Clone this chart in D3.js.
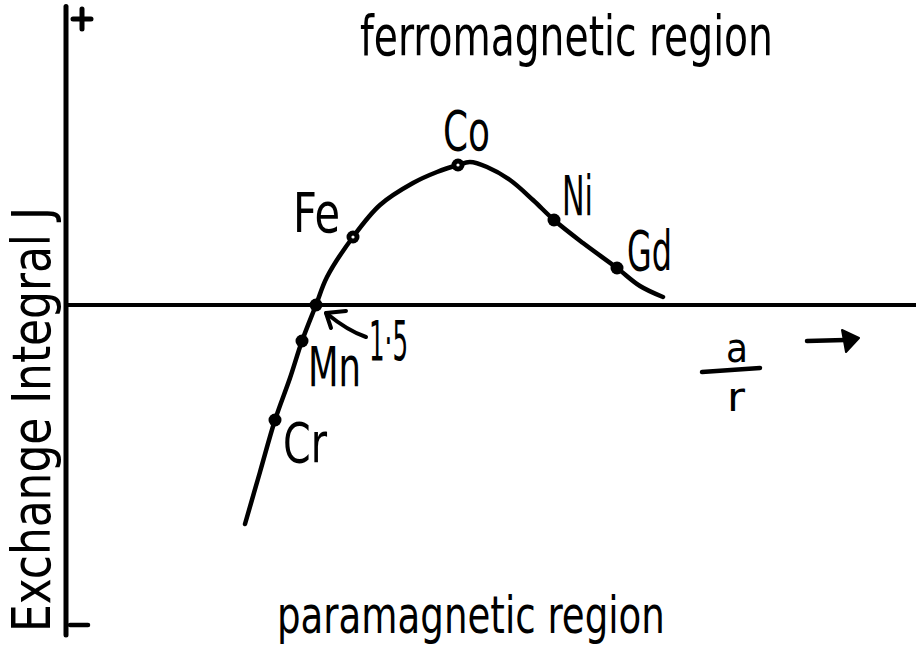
<!DOCTYPE html>
<html>
<head>
<meta charset="utf-8">
<script src="https://cdn.jsdelivr.net/npm/d3@7"></script>
<style>
  html, body { margin: 0; padding: 0; background: #fff; }
  svg { display: block; }
  text { font-family: "Liberation Sans Narrow", "DejaVu Sans Condensed", "Roboto Condensed", "Liberation Sans", sans-serif; font-stretch: condensed; fill: #000; }
</style>
</head>
<body>
<svg id="chart" width="916" height="656"></svg>
<script>
// ---- data (a/r ratio vs exchange integral J) ----
const curveAR = [1.145, 1.22, 1.295, 1.37, 1.43, 1.50, 1.555, 1.685, 1.82, 1.985, 2.105, 2.21, 2.27, 2.355, 2.47, 2.585, 2.69, 2.835, 3.005, 3.12, 3.235];
const curveJ  = [-2.19, -1.67, -1.15, -0.73, -0.36, 0.0, 0.28, 0.68, 1.00, 1.22, 1.33, 1.40, 1.43, 1.38, 1.25, 1.05, 0.85, 0.62, 0.37, 0.19, 0.08];
const elements  = ["Cr", "Mn", "Fe", "Co", "Ni", "Gd"];
const elementAR = [1.295, 1.43, 1.685, 2.21, 2.69, 3.005];
const elementJ  = [-1.15, -0.36, 0.68, 1.40, 0.85, 0.37];
const crossAR = 1.5;
const crossLabel = "1·5";
const yAxisLabel = "Exchange Integral J";
const regionLabels = ["ferromagnetic region", "paramagnetic region"];
const xAxisLabel = ["a", "r"];

// ---- scales ----
const svg = d3.select("#chart");
const x = d3.scaleLinear().domain([0.25, 4.5]).range([66, 916]);
const y = d3.scaleLinear().domain([-3.45, 3.0]).range([650, 5]);

// squeeze a text horizontally so its real width equals targetW
function fitText(sel, targetW, pre) {
  const w = sel.node().getComputedTextLength();
  const s = w > 0 ? targetW / w : 1;
  const x0 = +sel.attr("x") || 0;
  sel.attr("transform", `${pre || ""} translate(${x0},0) scale(${s},1) translate(${-x0},0)`);
  return sel;
}

// ---- axes ----
svg.append("line")
  .attr("x1", x(0.25)).attr("x2", x(0.25))
  .attr("y1", y(2.985)).attr("y2", y(-3.30))
  .attr("stroke", "#000").attr("stroke-width", 5).attr("stroke-linecap", "round");
svg.append("line")
  .attr("x1", x(0.25)).attr("x2", x(4.5))
  .attr("y1", y(0)).attr("y2", y(0))
  .attr("stroke", "#000").attr("stroke-width", 4);

// plus / minus signs at the axis ends
const plusX = x(0.25) + 16, plusY = y(2.86);
svg.append("path")
  .attr("d", `M${plusX-9},${plusY}L${plusX+9},${plusY}M${plusX},${plusY-10}L${plusX},${plusY+10}`)
  .attr("stroke", "#000").attr("stroke-width", 5).attr("stroke-linecap", "round").attr("fill", "none");
svg.append("line")
  .attr("x1", x(0.25) + 4).attr("x2", x(0.25) + 22)
  .attr("y1", y(-3.20)).attr("y2", y(-3.20))
  .attr("stroke", "#000").attr("stroke-width", 4.5).attr("stroke-linecap", "round");

// ---- curve ----
const pts = curveAR.map((a, i) => [x(a), y(curveJ[i])]);
const line = d3.line().curve(d3.curveCatmullRom.alpha(0.5));
svg.append("path")
  .attr("d", line(pts))
  .attr("fill", "none").attr("stroke", "#000").attr("stroke-width", 4.5)
  .attr("stroke-linecap", "round").attr("stroke-linejoin", "round");

// ---- element points ----
const openDots = { "Fe": true, "Co": true };
elements.forEach((e, i) => {
  const cx = x(elementAR[i]), cy = y(elementJ[i]);
  svg.append("circle").attr("cx", cx).attr("cy", cy).attr("r", 6.5).attr("fill", "#000");
  if (openDots[e]) svg.append("circle").attr("cx", cx).attr("cy", cy).attr("r", 1.6).attr("fill", "#fff");
});
svg.append("circle").attr("cx", x(crossAR)).attr("cy", y(0)).attr("r", 6.5).attr("fill", "#000");

// ---- element labels ----
const labelStyle = {
  "Cr": { dx: 8,   base: 462, len: 44 },
  "Mn": { dx: 6,   base: 386, len: 53 },
  "Fe": { dx: -60, base: 232, len: 47 },
  "Co": { dx: -15, base: 150, len: 47 },
  "Ni": { dx: 8,   base: 215, len: 31 },
  "Gd": { dx: 10,  base: 270, len: 45 }
};
elements.forEach((e, i) => {
  const s = labelStyle[e];
  const t = svg.append("text")
    .attr("x", x(elementAR[i]) + s.dx).attr("y", s.base)
    .attr("font-size", 55)
    .text(e);
  fitText(t, s.len);
});

// ---- 1.5 label with arrow ----
fitText(svg.append("text")
  .attr("x", x(crossAR) + 53).attr("y", 360)
  .attr("font-size", 56)
  .text(crossLabel), 39);
const tipX = x(crossAR) + 10, tipY = y(0) + 8;
svg.append("path")
  .attr("d", `M${tipX+40},${tipY+24} Q${tipX+22},${tipY+18} ${tipX},${tipY}`)
  .attr("fill", "none").attr("stroke", "#000").attr("stroke-width", 4).attr("stroke-linecap", "round");
svg.append("path")
  .attr("d", `M${tipX+20},${tipY-2} L${tipX},${tipY} L${tipX+5},${tipY+15}`)
  .attr("fill", "none").attr("stroke", "#000").attr("stroke-width", 4)
  .attr("stroke-linecap", "round").attr("stroke-linejoin", "round");

// ---- region labels ----
fitText(svg.append("text")
  .attr("x", 360).attr("y", 55)
  .attr("font-size", 55)
  .text(regionLabels[0]), 413);
fitText(svg.append("text")
  .attr("x", 277).attr("y", 633)
  .attr("font-size", 51)
  .text(regionLabels[1]), 388);

// ---- y axis label ----
fitText(svg.append("text")
  .attr("x", 0).attr("y", 0)
  .attr("font-size", 54)
  .text(yAxisLabel), 425, "translate(50,632) rotate(-90)");

// ---- x axis label a/r with arrow ----
fitText(svg.append("text")
  .attr("x", 737).attr("y", 362).attr("text-anchor", "middle")
  .attr("font-size", 40)
  .text(xAxisLabel[0]), 22);
svg.append("line")
  .attr("x1", 702).attr("x2", 760).attr("y1", 372).attr("y2", 368)
  .attr("stroke", "#000").attr("stroke-width", 4.5).attr("stroke-linecap", "round");
fitText(svg.append("text")
  .attr("x", 736).attr("y", 411).attr("text-anchor", "middle")
  .attr("font-size", 40)
  .text(xAxisLabel[1]), 18);
svg.append("line")
  .attr("x1", 807).attr("x2", 845).attr("y1", 341).attr("y2", 340)
  .attr("stroke", "#000").attr("stroke-width", 4.5).attr("stroke-linecap", "round");
svg.append("path")
  .attr("d", "M842,330 L859,338 L846,352 Z")
  .attr("fill", "#000").attr("stroke", "#000").attr("stroke-width", 2).attr("stroke-linejoin", "round");
</script>
</body>
</html>
